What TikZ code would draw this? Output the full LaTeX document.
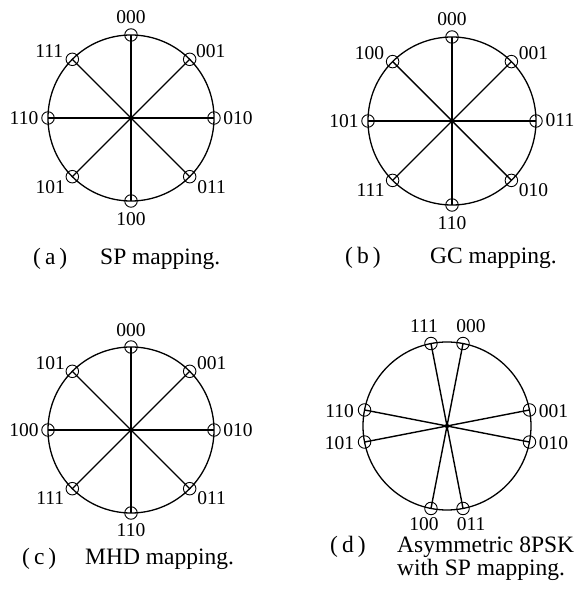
\documentclass[tikz,border=0pt]{standalone}
\usepackage{fontspec}
\setmainfont{Liberation Serif}
\usetikzlibrary{calc}
\tikzset{
  ring/.style={line width=1.3pt},
  spoke/.style={line width=1.4pt},
  mk/.style={circle,draw,line width=0.9pt,minimum size=12.5pt,inner sep=0pt},
  ctr/.style={circle,fill,minimum size=4.5pt,inner sep=0pt},
  lab/.style={inner sep=0pt,font=\fontsize{19.5}{19.5}\selectfont},
  captext/.style={inner sep=0pt,anchor=base west,font=\fontsize{23.5}{23.5}\selectfont}
}
\begin{document}
\begin{tikzpicture}[x=1pt,y=1pt]
\useasboundingbox[fill=white] (0,0) rectangle (577,597);
% ---------- (a)
\node[ctr] (ca) at (131,479) {};
\draw[ring] (ca.center) circle (83);
\foreach \ang/\txt/\dx/\dy [count=\i] in {90/000/0/18,45/001/21/8,0/010/24/0,-45/011/22/-10,-90/100/0/-18,-135/101/-22/-10,180/110/-24/0,135/111/-23/8}{
  \node[mk] (pa\i) at ($(ca.center)+(\ang:83)$) {};
  \draw[spoke] (ca.center) -- (pa\i.center);
  \node[lab] (la\i) at ($(pa\i.center)+(\dx,\dy)$) {\txt};
}
\node[captext] (capa1) at (33,332) {(\hspace{4pt}a\hspace{4pt})};
\node[captext] (capa2) at (100,332) {SP mapping.};
% ---------- (b)
\node[ctr] (cb) at (452,476) {};
\draw[ring] (cb.center) circle (84);
\foreach \ang/\txt/\dx/\dy [count=\i] in {90/000/0/18,45/001/22/8,0/011/24/1,-45/010/22/-10,-90/110/0/-18,-135/111/-22/-10,180/101/-24/0,135/100/-23/8}{
  \node[mk] (pb\i) at ($(cb.center)+(\ang:84)$) {};
  \draw[spoke] (cb.center) -- (pb\i.center);
  \node[lab] (lb\i) at ($(pb\i.center)+(\dx,\dy)$) {\txt};
}
\node[captext] (capb1) at (345,333) {(\hspace{4pt}b\hspace{4pt})};
\node[captext] (capb2) at (430,333) {GC mapping.};
% ---------- (c)
\node[ctr] (cc) at (131,167) {};
\draw[ring] (cc.center) circle (83);
\foreach \ang/\txt/\dx/\dy [count=\i] in {90/000/0/17,45/001/22/8,0/010/24/0,-45/011/22/-9,-90/110/0/-17,-135/111/-22/-9,180/100/-24/0,135/101/-22/8}{
  \node[mk] (pc\i) at ($(cc.center)+(\ang:83)$) {};
  \draw[spoke] (cc.center) -- (pc\i.center);
  \node[lab] (lc\i) at ($(pc\i.center)+(\dx,\dy)$) {\txt};
}
\node[captext] (capc1) at (22,32) {(\hspace{4pt}c\hspace{4pt})};
\node[captext] (capc2) at (85,32) {MHD mapping.};
% ---------- (d)
\node[ctr] (cd) at (447,171) {};
\draw[ring] (cd.center) circle (84);
\foreach \ang/\txt/\dx/\dy [count=\i] in {79/000/8/17,11/001/24/-1,-11/010/24/-1,-79/011/8/-15.5,-101/100/-7/-15.5,191/101/-25/-1,169/110/-25/-1,101/111/-7/17}{
  \node[mk] (pd\i) at ($(cd.center)+(\ang:84)$) {};
  \draw[spoke] (cd.center) -- (pd\i.center);
  \node[lab] (ld\i) at ($(pd\i.center)+(\dx,\dy)$) {\txt};
}
\node[captext] (capd1) at (330,44) {(\hspace{4pt}d\hspace{4pt})};
\node[captext] (capd2) at (397,44) {Asymmetric 8PSK};
\node[captext] (capd3) at (397,21) {with SP mapping.};
\end{tikzpicture}
\end{document}
